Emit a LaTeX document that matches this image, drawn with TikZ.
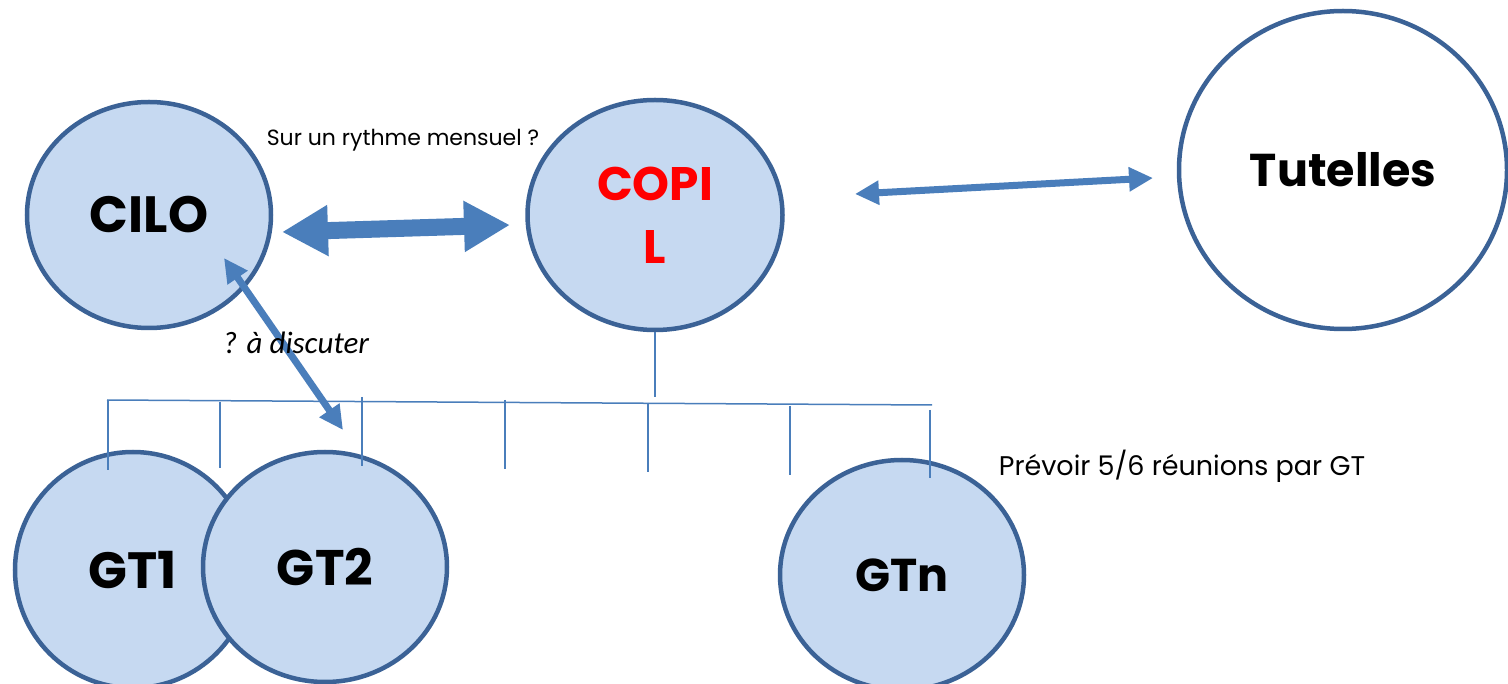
\documentclass[tikz,border=0pt]{standalone}
\usepackage{fontspec}
\setmainfont{Poppins}
\newfontfamily\calfont{Carlito}
\usetikzlibrary{arrows.meta,shapes.geometric}
\definecolor{bfill}{HTML}{C6D9F1}
\definecolor{bline}{HTML}{3B6296}
\definecolor{arr}{HTML}{4A7EBB}
\definecolor{redtxt}{HTML}{FF0000}
\tikzset{
  bubble/.style={ellipse, draw=bline, line width=4.5pt, fill=bfill, inner sep=0pt,
    font=\fontsize{46}{60}\selectfont\bfseries},
  bigarrow/.style={draw=arr, line width=17pt, {Triangle[length=46pt,width=48pt]}-{Triangle[length=46pt,width=48pt]}},
  midarrow/.style={draw=arr, line width=7pt, {Triangle[length=24pt,width=23pt]}-{Triangle[length=24pt,width=23pt]}},
  busline/.style={draw=arr, line width=1.5pt},
  note/.style={font=\fontsize{22}{26}\selectfont, inner sep=0pt}
}
\begin{document}
\begin{tikzpicture}[x=1pt,y=-1pt]
\useasboundingbox[fill=white] (0,0) rectangle (1508,684);
% top row
\node[bubble, minimum width=244pt, minimum height=226pt, font=\fontsize{51}{60}\selectfont\bfseries] (cilo) at (149,215) {CILO};
\node[bubble, minimum width=255pt, minimum height=230pt, align=center, text=redtxt,
  font=\fontsize{47}{63}\selectfont\bfseries] (copil) at (655,215) {COPI\\L};
\node[bubble, fill=white, minimum width=328pt, minimum height=318pt] (tut) at (1343,170) {Tutelles};
% bottom row
\node[bubble, minimum width=236pt, minimum height=236pt, font=\fontsize{51}{60}\selectfont\bfseries] (gt1) at (133,570) {GT1};
\node[bubble, minimum width=244pt, minimum height=230pt, font=\fontsize{50}{60}\selectfont\bfseries] (gt2) at (325,567) {GT2};
\node[bubble, minimum width=244pt, minimum height=230pt] (gtn) at (902,575) {GTn};
% bus
\coordinate (bt) at (655,397);
\coordinate (b0) at (107,400);
\coordinate (b1) at (932,405);
\draw[busline] (copil.south) -- (bt);
\draw[busline] (b0) -- (b1);
\foreach \x/\ya/\yb in {108/400/470, 220/402/468, 362/397/466, 505/400/469, 648/403/472, 790/406/475, 930/410/478}
  \draw[busline] (\x,\ya) -- (\x,\yb);
% arrows
\coordinate (a1) at (282,232);
\coordinate (a2) at (510,225);
\draw[bigarrow] (a1) -- (a2);
\coordinate (t1) at (855,194);
\coordinate (t2) at (1153,178);
\draw[midarrow] (t1) -- (t2);
\coordinate (d1) at (224,258);
\coordinate (d2) at (343,430);
\draw[midarrow] (d1) -- (d2);
% texts
\node[note] (n1) at (403,140) {Sur un rythme mensuel ?};
\node[font=\calfont\itshape\fontsize{31}{36}\selectfont, inner sep=0pt] (n2) at (296,343) {? à discuter};
\node[note, font=\fontsize{27}{32}\selectfont] (n3) at (1182,466) {Prévoir 5/6 réunions par GT};
\end{tikzpicture}
\end{document}
